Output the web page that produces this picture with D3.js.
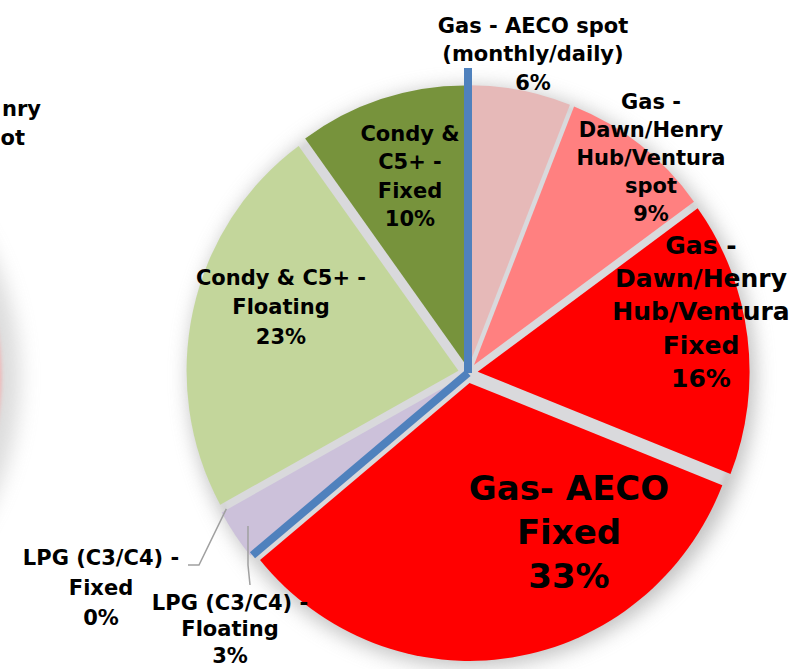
<!DOCTYPE html>
<html>
<head>
<meta charset="utf-8">
<script src="https://cdn.jsdelivr.net/npm/d3@7"></script>
<style>
  html, body { margin: 0; padding: 0; background: #ffffff; }
  svg { display: block; }
  text { font-family: "DejaVu Sans", Verdana, sans-serif; font-weight: bold; fill: #000; }
</style>
</head>
<body>
<svg id="chart" width="795" height="669"></svg>
<script>
// Commodity exposure mix, clockwise from 12 o'clock
const categories = [
  "Gas - AECO spot (monthly/daily)",
  "Gas - Dawn/Henry Hub/Ventura spot",
  "Gas - Dawn/Henry Hub/Ventura Fixed",
  "Gas- AECO Fixed",
  "LPG (C3/C4) - Floating",
  "LPG (C3/C4) - Fixed",
  "Condy & C5+ - Floating",
  "Condy & C5+ - Fixed"
];
const shares = [6, 9, 16, 33, 3, 0, 23, 10];

// category names as they wrap inside each label
const labelLines = [
  ["Gas - AECO spot", "(monthly/daily)"],
  ["Gas -", "Dawn/Henry", "Hub/Ventura", "spot"],
  ["Gas -", "Dawn/Henry", "Hub/Ventura", "Fixed"],
  ["Gas- AECO", "Fixed"],
  ["LPG (C3/C4) -", "Floating"],
  ["LPG (C3/C4) -", "Fixed"],
  ["Condy & C5+ -", "Floating"],
  ["Condy &", "C5+ -", "Fixed"]
];

// visible tail of the neighbouring chart's label at the left edge
const neighbourLines = ["nry", "ot"];

// ---- styling / layout ----
const sliceColors = ["#e6b9b8", "#ff8080", "#ff0000", "#ff0000", "#ccc1da", "#ccc1da", "#c3d69b", "#77933c"];
// label block: centre x, centre y of first line, font size, line step
const labelLayout = [
  { x: 533, y: 25,  size: 21, step: 28.5 },
  { x: 651, y: 101, size: 21, step: 28 },
  { x: 701, y: 245, size: 25, step: 33.2 },
  { x: 569, y: 488, size: 34, step: 44 },
  { x: 230, y: 602, size: 21, step: 26.5 },
  { x: 101, y: 557, size: 21, step: 30 },
  { x: 281, y: 277, size: 21, step: 29.5 },
  { x: 410, y: 133, size: 21, step: 28.5 }
];

const cx = 468, cy = 373, R = 278, sx = 0.978, explode = 10;

const svg = d3.select("#chart");
const defs = svg.append("defs");
defs.append("filter").attr("id", "shadow").attr("x", "-30%").attr("y", "-30%").attr("width", "160%").attr("height", "160%")
  .append("feGaussianBlur").attr("stdDeviation", 10);
defs.append("filter").attr("id", "edge").attr("x", "-10%").attr("y", "-10%").attr("width", "120%").attr("height", "120%")
  .append("feGaussianBlur").attr("stdDeviation", 2);

// neighbouring chart peeking in from the left
svg.append("circle").attr("cx", -272).attr("cy", 378).attr("r", 292)
  .attr("fill", "#a8a8a8").attr("opacity", 0.4).attr("filter", "url(#shadow)");
svg.append("circle").attr("cx", -276).attr("cy", 376).attr("r", 277)
  .attr("fill", "#ff9c9c").attr("opacity", 0.7).attr("filter", "url(#edge)");
const nb = svg.append("text").attr("text-anchor", "end").style("font-size", "21px");
nb.append("tspan").attr("x", 41).attr("y", 108 + 7.5).text(neighbourLines[0]);
nb.append("tspan").attr("x", 25).attr("y", 137 + 7.5).text(neighbourLines[1]);

const pie = d3.pie().sort(null).value(d => d).startAngle(0).endAngle(2 * Math.PI);
const arcs = pie(shares);
const arc = d3.arc().innerRadius(0).outerRadius(R);

const g = svg.append("g").attr("transform", `translate(${cx},${cy}) scale(${sx},1)`);

// soft drop shadow and the grey that shows between exploded slices
g.append("circle").attr("cx", 4).attr("cy", 4).attr("r", R + 12)
  .attr("fill", "#9a9a9a").attr("opacity", 0.6).attr("filter", "url(#shadow)");
g.append("circle").attr("r", R + 4).attr("fill", "#d9d9dc").attr("filter", "url(#edge)");

const offset = d => {
  const m = (d.startAngle + d.endAngle) / 2;
  return [Math.sin(m) * explode, -Math.cos(m) * explode];
};

g.selectAll("path.slice").data(arcs).join("path")
  .attr("class", "slice")
  .attr("d", arc)
  .attr("transform", d => `translate(${offset(d)})`)
  .attr("fill", (d, i) => sliceColors[i]);

// point on the pie in page coordinates
const toPage = (angle, r) => [cx + Math.sin(angle) * r * sx, cy - Math.cos(angle) * r];

// blue dividers between the gas and the liquids sectors
const blue = "#4f81bd";
const dividers = [
  { a: arcs[0].startAngle, len: 305 },
  { a: arcs[3].endAngle, len: 286 }
];
dividers.forEach(dv => {
  const [x2, y2] = toPage(dv.a, dv.len);
  svg.append("line").attr("x1", cx).attr("y1", cy).attr("x2", x2).attr("y2", y2)
    .attr("stroke", blue).attr("stroke-width", 8);
});

// leader lines for the two thin LPG slices
const leader = d3.line();
const fixedTip = toPage(arcs[5].startAngle, R + 4);
const floatTip = toPage((arcs[4].startAngle + arcs[4].endAngle) / 2, R - 6);
svg.append("path").attr("d", leader([[188, 565], [199, 565], fixedTip]))
  .attr("fill", "none").attr("stroke", "#a0a0a0").attr("stroke-width", 1.5);
svg.append("path").attr("d", leader([floatTip, [248, 565], [250, 585]]))
  .attr("fill", "none").attr("stroke", "#a0a0a0").attr("stroke-width", 1.5);

// data labels
arcs.forEach((d, i) => {
  const L = labelLayout[i];
  const lines = labelLines[i].concat([`${shares[i]}%`]);
  const t = svg.append("text").attr("text-anchor", "middle").style("font-size", L.size + "px");
  lines.forEach((s, k) => {
    t.append("tspan").attr("x", L.x).attr("y", L.y + k * L.step + L.size * 0.36).text(s);
  });
});
</script>
</body>
</html>
